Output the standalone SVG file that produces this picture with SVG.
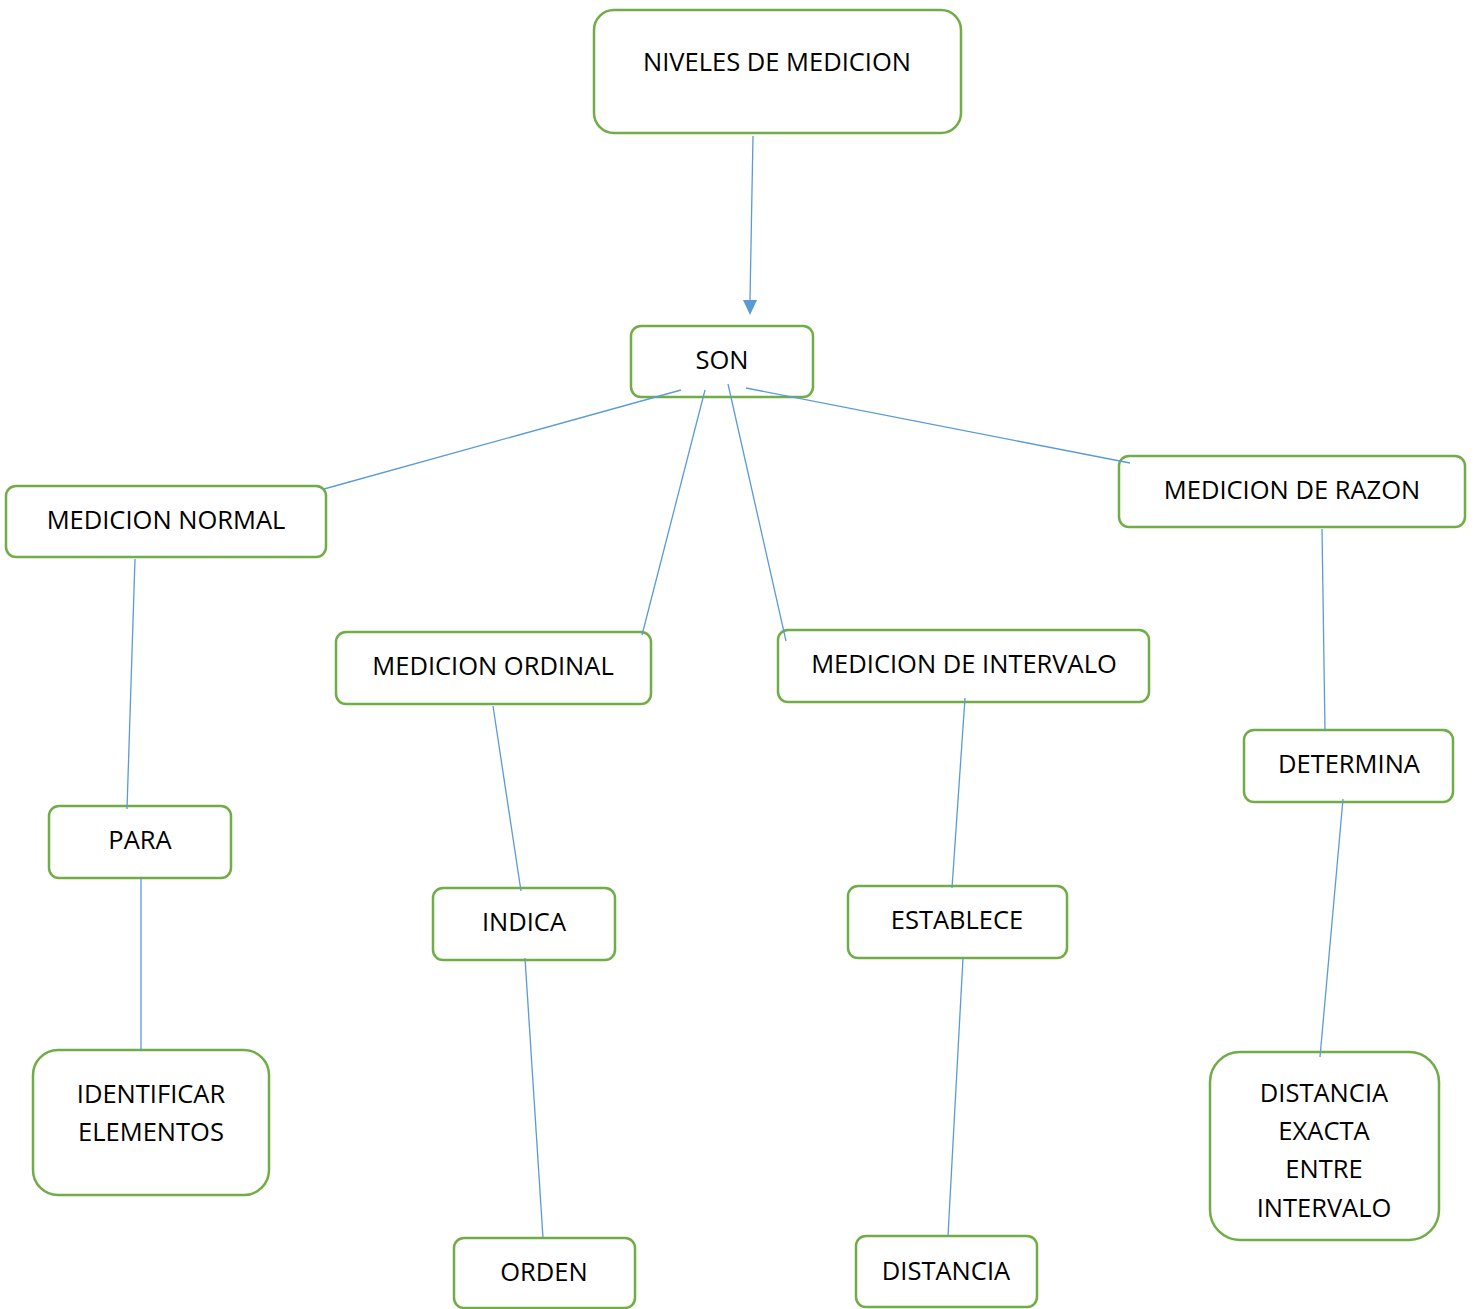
<svg xmlns="http://www.w3.org/2000/svg" width="1480" height="1309" viewBox="0 0 1480 1309">
<style>
.n{fill:#fff;stroke:#70AD47;stroke-width:2.5}
.t{font-family:"Open Sans","Liberation Sans",sans-serif;font-size:25.5px;fill:#000;text-anchor:middle;dominant-baseline:central}
.c line{stroke:#5B9BD5;stroke-width:1.3}
</style>
<rect width="1480" height="1309" fill="#fff"/>
<g id="niveles"><rect class="n" x="594" y="10" width="367" height="123" rx="20"/><text class="t" x="777" y="61">NIVELES DE MEDICION</text></g>
<g id="son"><rect class="n" x="631" y="326" width="182" height="71" rx="10"/><text class="t" x="722" y="359">SON</text></g>
<g id="normal"><rect class="n" x="6" y="486" width="320" height="71" rx="10"/><text class="t" x="166" y="519">MEDICION NORMAL</text></g>
<g id="ordinal"><rect class="n" x="336" y="632" width="315" height="72" rx="10"/><text class="t" x="493" y="665">MEDICION ORDINAL</text></g>
<g id="intervalo"><rect class="n" x="778" y="630" width="371" height="72" rx="10"/><text class="t" x="964" y="663">MEDICION DE INTERVALO</text></g>
<g id="razon"><rect class="n" x="1119" y="456" width="346" height="71" rx="10"/><text class="t" x="1292" y="489">MEDICION DE RAZON</text></g>
<g id="para"><rect class="n" x="49" y="806" width="182" height="72" rx="10"/><text class="t" x="140" y="839">PARA</text></g>
<g id="indica"><rect class="n" x="433" y="888" width="182" height="72" rx="10"/><text class="t" x="524" y="921">INDICA</text></g>
<g id="establece"><rect class="n" x="848" y="886" width="219" height="72" rx="10"/><text class="t" x="957" y="919">ESTABLECE</text></g>
<g id="determina"><rect class="n" x="1244" y="730" width="209" height="72" rx="10"/><text class="t" x="1349" y="763">DETERMINA</text></g>
<g id="identificar"><rect class="n" x="33" y="1050" width="236" height="145" rx="25"/><text class="t" x="151" y="1093">IDENTIFICAR</text><text class="t" x="151" y="1131">ELEMENTOS</text></g>
<g id="orden"><rect class="n" x="454" y="1238" width="181" height="70" rx="10"/><text class="t" x="544" y="1271">ORDEN</text></g>
<g id="distancia"><rect class="n" x="856" y="1236" width="181" height="71" rx="10"/><text class="t" x="946" y="1270">DISTANCIA</text></g>
<g id="distancia-exacta"><rect class="n" x="1210" y="1052" width="229" height="188" rx="30"/><text class="t" x="1324" y="1092">DISTANCIA</text><text class="t" x="1324" y="1130">EXACTA</text><text class="t" x="1324" y="1168">ENTRE</text><text class="t" x="1324" y="1207">INTERVALO</text></g>
<g class="c">
<line x1="753" y1="136" x2="750" y2="300"/>
<path d="M743,300 L757,300 L750,315 Z" fill="#5B9BD5"/>
<line x1="681" y1="390" x2="324" y2="489"/>
<line x1="705" y1="390" x2="642" y2="635"/>
<line x1="728" y1="384" x2="786" y2="641"/>
<line x1="746" y1="388" x2="1130" y2="463"/>
<line x1="135" y1="559" x2="127" y2="809"/>
<line x1="141" y1="878" x2="141" y2="1051"/>
<line x1="493" y1="706" x2="521" y2="891"/>
<line x1="525" y1="958" x2="543" y2="1238"/>
<line x1="965" y1="698" x2="952" y2="888"/>
<line x1="963" y1="958" x2="948" y2="1236"/>
<line x1="1322" y1="529" x2="1325" y2="731"/>
<line x1="1343" y1="799" x2="1320" y2="1057"/>
</g>
</svg>
